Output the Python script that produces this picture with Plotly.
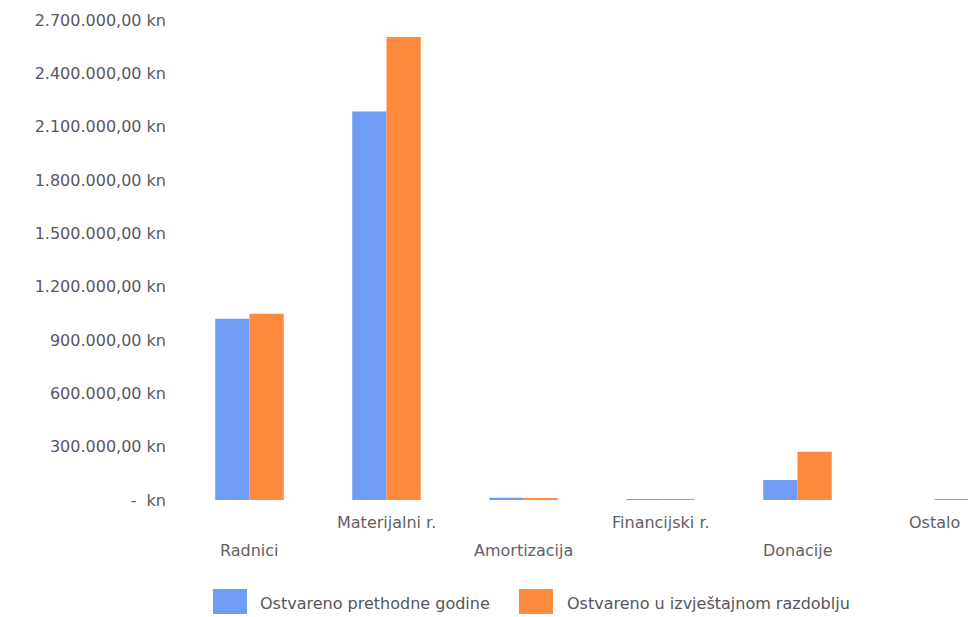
import plotly.graph_objects as go

# Expense categories and the two reporting periods (amounts in kn)
categories = ["Radnici", "Materijalni r.", "Amortizacija", "Financijski r.", "Donacije", "Ostalo"]
series_names = ["Ostvareno prethodne godine", "Ostvareno u izvještajnom razdoblju"]
prev_year = [1020000, 2185000, 12000, 5000, 112000, 0]
current_period = [1048000, 2605000, 10000, 4000, 272000, 4000]

y_tick_values = [0, 300000, 600000, 900000, 1200000, 1500000, 1800000, 2100000, 2400000, 2700000]
y_tick_labels = ["-\u00a0\u00a0kn", "300.000,00 kn", "600.000,00 kn", "900.000,00 kn",
                 "1.200.000,00 kn", "1.500.000,00 kn", "1.800.000,00 kn", "2.100.000,00 kn",
                 "2.400.000,00 kn", "2.700.000,00 kn"]

colors = ["#6f9cf4", "#ff8a3d"]
FONT = "DejaVu Sans"
W, H = 968, 617
ML, MR, MT, MB = 181, 0, 20, 117
plot_w = W - ML - MR
plot_h = H - MT - MB


def px_x(px):
    return (px - ML) / plot_w


def px_y(py):
    return (H - MB - py) / plot_h


fig = go.Figure()
for name, vals, col in zip(series_names, [prev_year, current_period], colors):
    fig.add_trace(go.Bar(x=list(range(len(categories))), y=vals, name=name,
                         marker=dict(color=col, line=dict(width=0)), showlegend=False))

# Category labels, staggered on two rows
for i, cat in enumerate(categories):
    fig.add_annotation(x=i, xref="x", y=px_y(522 if i % 2 else 550), yref="paper",
                       text=cat, showarrow=False, xanchor="center", yanchor="middle",
                       font=dict(family=FONT, size=16, color="#5f5f66"))

# Legend with large colour swatches
legend_pos = [(213, 258), (519, 565)]
for (sx, tx), name, col in zip(legend_pos, series_names, colors):
    fig.add_shape(type="rect", xref="paper", yref="paper",
                  x0=px_x(sx), x1=px_x(sx + 34), y0=px_y(614), y1=px_y(589),
                  fillcolor=col, line=dict(width=0))
    fig.add_annotation(x=px_x(tx), xref="paper", y=px_y(603), yref="paper",
                       text=name, showarrow=False, xanchor="left", yanchor="middle",
                       font=dict(family=FONT, size=16, color="#55555c"))

fig.update_layout(
    width=W, height=H,
    margin=dict(l=ML, r=MR, t=MT, b=MB),
    paper_bgcolor="white", plot_bgcolor="white",
    barmode="group", bargap=0.5, bargroupgap=0,
    xaxis=dict(range=[-0.5, 5.5 - 35 / 137], showticklabels=False, showgrid=False,
               zeroline=False, showline=False, fixedrange=True),
    yaxis=dict(range=[0, 2700000], tickvals=y_tick_values, ticktext=y_tick_labels,
               showgrid=False, zeroline=False, showline=False, ticks="",
               ticklabelstandoff=14,
               tickfont=dict(family=FONT, size=16, color="#5a5566")),
    font=dict(family=FONT),
)

fig.write_html("out.html")
